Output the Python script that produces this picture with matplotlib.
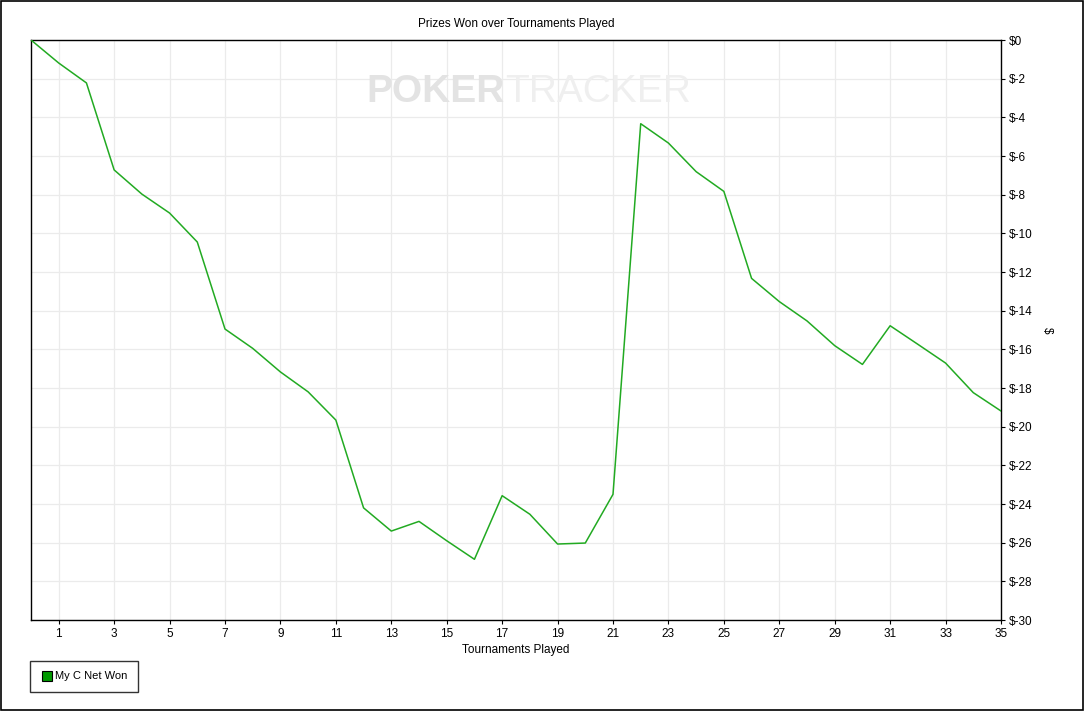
import matplotlib
matplotlib.use("Agg")
import matplotlib.pyplot as plt
from matplotlib.patches import Rectangle
from matplotlib.lines import Line2D

plt.rcParams['font.family'] = ['Liberation Sans', 'DejaVu Sans']

# data
tournaments = list(range(0, 36))
net_won = [0.0, -1.19, -2.22, -6.72, -7.97, -8.95, -10.45, -14.95, -15.95, -17.17,
           -18.2, -19.66, -24.2, -25.4, -24.9, -25.9, -26.86, -23.57, -24.53, -26.07,
           -26.02, -23.5, -4.33, -5.33, -6.81, -7.83, -12.33, -13.53, -14.53, -15.81,
           -16.78, -14.78, -15.74, -16.71, -18.24, -19.19]
x_ticks = list(range(1, 36, 2))
y_ticks = list(range(0, -31, -2))
series_name = "My C Net Won"

fig = plt.figure(figsize=(10.85, 7.11), dpi=100)
ax = fig.add_axes([31/1085, 91/711, 970/1085, 580/711])

ax.plot(tournaments, net_won, color='#22aa22', lw=1.1, zorder=3)

ax.set_xlim(0, 35)
ax.set_ylim(-30, 0)
ax.set_xticks(x_ticks)
ax.set_yticks(y_ticks)
ax.set_yticklabels(['$%d' % v for v in y_ticks])
ax.yaxis.tick_right()
ax.yaxis.set_label_position('right')
ax.tick_params(axis='both', labelsize=8.5, length=3, width=0.8, color='black', pad=3)
ax.grid(True, color='#ebebeb', lw=0.9, zorder=0)
ax.set_axisbelow(True)
for s in ax.spines.values():
    s.set_linewidth(1.0)

ax.set_xlabel('Tournaments Played', fontsize=8.5, labelpad=3)
ax.set_ylabel('$', fontsize=8.5, rotation=270, labelpad=14)
ax.set_title('Prizes Won over Tournaments Played', fontsize=8.5, pad=9.5)

# watermark
wm = ax.text(0.346, 0.91, 'POKER', transform=ax.transAxes, fontsize=28, fontweight='bold',
             color='#e3e3e3', ha='left', va='center', zorder=1)
ax.annotate('TRACKER', xy=(1.0, 0.5), xycoords=wm, fontsize=28,
            color='#efefef', ha='left', va='center', zorder=1)

# legend box
handle = Line2D([], [], marker='s', ls='none', markersize=6.5, markerfacecolor='#009900',
                markeredgecolor='black', markeredgewidth=0.8)
leg = fig.legend([handle], [series_name], loc='lower left',
                 bbox_to_anchor=(30/1085, (711-692)/711), fontsize=8, frameon=True,
                 fancybox=False, edgecolor='black', handletextpad=0.1,
                 borderpad=0.95, handlelength=1.2, borderaxespad=0)
leg.get_frame().set_linewidth(1.0)

# outer border
fig.patches.append(Rectangle((0.0005, 0.0008), 0.998, 0.998, transform=fig.transFigure,
                             fill=False, edgecolor='black', lw=1.2))

fig.savefig('out.png', dpi=100)
